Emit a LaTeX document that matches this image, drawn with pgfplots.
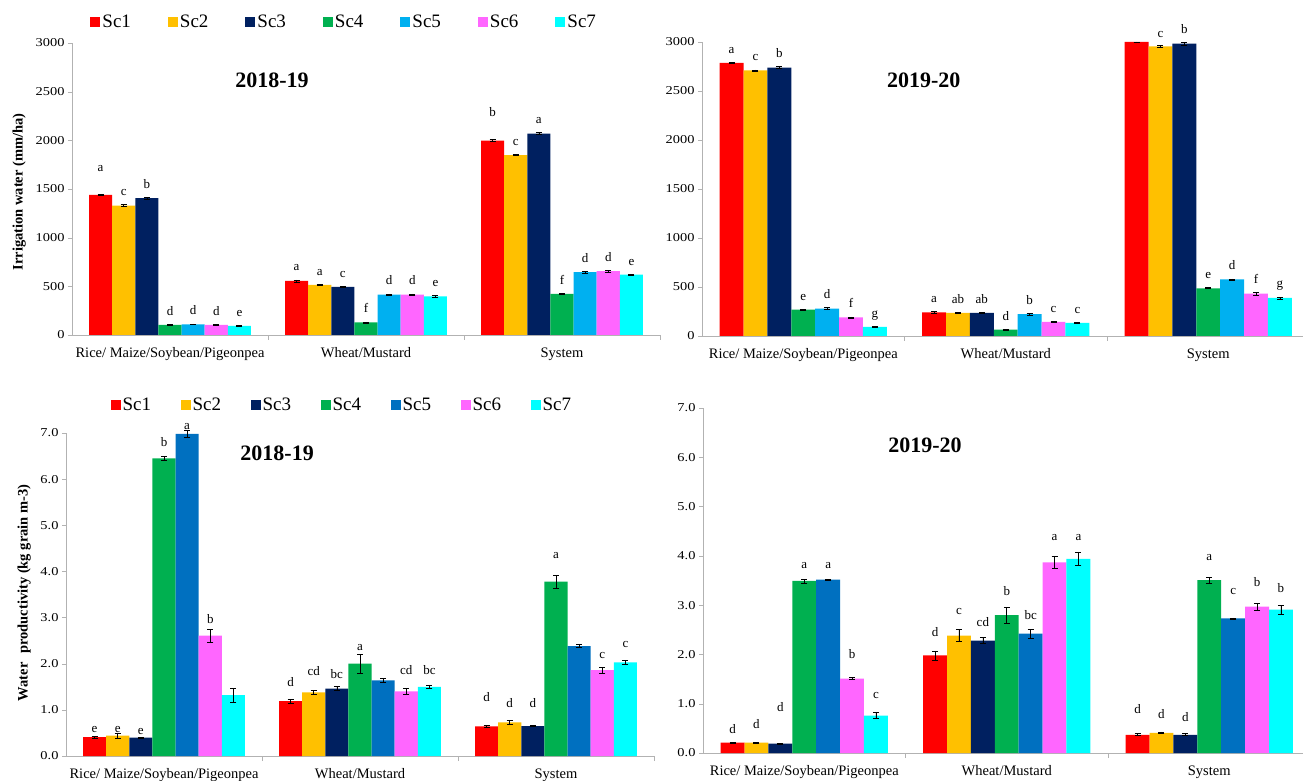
\documentclass[border=0pt]{standalone}
\usepackage{pgfplots}
\pgfplotsset{compat=1.18}
\usepackage{pgfplotstable}
\usepackage{fontspec}
\setmainfont{Liberation Serif}
\newfontfamily\tickfam{Liberation Serif}[FakeStretch=1.2]

\definecolor{scA}{HTML}{FF0000}
\definecolor{scB}{HTML}{FFC000}
\definecolor{scC}{HTML}{002060}
\definecolor{scD}{HTML}{00B050}
\definecolor{scE}{HTML}{00B0F0}
\definecolor{scEd}{HTML}{0070C0}
\definecolor{scF}{HTML}{FF66FF}
\definecolor{scG}{HTML}{00FFFF}

\newcommand{\lettfont}{\fontsize{13}{14}\selectfont}

% columns: group, means v1..v7, errors e1..e7, letters l1..l7, extra letter lift o1..o7 (pt)
\pgfplotstableread{
g v1 v2 v3 v4 v5 v6 v7 e1 e2 e3 e4 e5 e6 e7 l1 l2 l3 l4 l5 l6 l7 o1 o2 o3 o4 o5 o6 o7
0 1440 1330 1405 105 110 105 95 8 8 8 5 5 5 5 a c b d d d e 14 0 0 0 0 0 0
1 556 515 494 130 415 415 398 10 5 5 5 8 8 8 a a c f d d e 0 0 0 0 0 0 0
2 1998 1848 2070 423 645 655 620 10 5 10 5 8 8 5 b c a f d d e 14 0 0 0 0 0 0
}\iwA
\pgfplotstableread{
g v1 v2 v3 v4 v5 v6 v7 e1 e2 e3 e4 e5 e6 e7 l1 l2 l3 l4 l5 l6 l7 o1 o2 o3 o4 o5 o6 o7
0 2786 2711 2739 270 280 190 92 8 5 8 5 8 5 5 a c b e d f g 0 0 0 0 0 0 0
1 241 236 236 65 222 144 135 10 5 5 5 8 5 5 a ab ab d b c c 0 0 0 0 0 0 0
2 3000 2955 2983 487 578 432 388 0 8 12 5 5 15 10 {} c b e d f g 0 -1 0 0 0 0 0
}\iwB
\pgfplotstableread{
g v1 v2 v3 v4 v5 v6 v7 e1 e2 e3 e4 e5 e6 e7 l1 l2 l3 l4 l5 l6 l7 o1 o2 o3 o4 o5 o6 o7
0 0.41 0.44 0.40 6.45 6.98 2.61 1.32 0.02 0.06 0.01 0.04 0.07 0.14 0.15 e e e b a b {} -5 -9 -6 1 -8 -3 0
1 1.19 1.38 1.46 2.00 1.64 1.40 1.50 0.04 0.04 0.04 0.21 0.05 0.06 0.04 d cd bc a {} cd bc 4 6 -1 -5 0 5 1
2 0.64 0.73 0.65 3.78 2.38 1.86 2.03 0.02 0.05 0.01 0.14 0.03 0.06 0.04 d d d a {} c c 15 4 9 8 0 0 4
}\wpA
\pgfplotstableread{
g v1 v2 v3 v4 v5 v6 v7 e1 e2 e3 e4 e5 e6 e7 l1 l2 l3 l4 l5 l6 l7 o1 o2 o3 o4 o5 o6 o7
0 0.21 0.21 0.19 3.49 3.52 1.51 0.76 0.01 0.01 0.01 0.04 0.01 0.02 0.06 d d d a a b c 0 5 23 2 2 10 5
1 1.98 2.38 2.28 2.80 2.42 3.87 3.94 0.09 0.12 0.06 0.16 0.09 0.13 0.14 d c cd b bc a a 5 6 2 3 1 6 2
2 0.37 0.41 0.37 3.51 2.73 2.97 2.91 0.02 0.02 0.02 0.06 0.01 0.07 0.09 d d d a c b b 11 4 3 8 14 8 4
}\wpB

\pgfplotsset{
  sqleg/.style={legend image code/.code={\fill[##1] (0pt,-5pt) rectangle (10pt,5pt);}},
}

% one scenario: table, scenario number, colour, pt per data unit;
% each bar sits at its group position plus its own offset
\newcommand{\scbar}[4]{%
  \addplot[ybar, bar width=0.118, bar shift=0pt, fill=#3, draw=none, sqleg,
    nodes near coords, point meta=explicit symbolic,
    visualization depends on={\thisrow{e#2}*#4+\thisrow{o#2}+9 \as \lift},
    every node near coord/.append style={font=\lettfont, anchor=base, inner sep=0pt, yshift=\lift, text=black},
    error bars/.cd, y dir=both, y explicit,
    error bar style={black, line width=0.6pt},
    error mark options={black, rotate=90, mark size=3pt, line width=0.6pt}]
  table[x expr={\thisrow{g}+(#2-4)*0.118}, y=v#2, y error=e#2, meta=l#2] {#1};
}

\pgfplotsset{
  panel/.style={
    scale only axis, axis lines=left, axis line style={gray!60, -},
    xmin=-0.5, ymin=0, clip=false,
    xtick={0,1,2},
    xticklabels={Rice/ Maize/Soybean/Pigeonpea, Wheat/Mustard, System},
    major x tick style={draw=none},
    minor xtick={0.5,1.5,2.5}, minor x tick style={gray!60}, minor tick length=5pt,
    tick align=outside, major tick length=4pt, ytick style={gray!60},
    x tick label style={font=\fontsize{14.5}{16}\selectfont, yshift=-5pt},
    y tick label style={font=\tickfam\fontsize{12}{13}\selectfont},
    /pgf/number format/assume math mode=true,
    /pgf/number format/1000 sep={},
    scaled y ticks=false,
    ylabel style={font=\bfseries\fontsize{14.5}{16}\selectfont, anchor=center},
  },
  irr/.style={panel, ymax=3000, ytick={0,500,...,3000}},
  wp/.style={panel, ymax=7, ytick={0,1,...,7},
    yticklabel style={/pgf/number format/.cd, fixed, fixed zerofill, precision=1}},
  topleg/.style={legend columns=7, legend cell align=left,
    legend style={draw=none, fill=none, anchor=center,
      font=\fontsize{19}{21}\selectfont,
      /tikz/every even column/.append style={column sep=#1}}},
}

\begin{document}
\begin{tikzpicture}[x=1pt,y=1pt]
\useasboundingbox (0,0) rectangle (1303,780);

% Irrigation water, 2018-19
\begin{axis}[irr, at={(72pt,445pt)}, anchor=south west,
  width=588pt, height=292pt, xmax=2.5,
  ylabel={Irrigation water (mm/ha)},
  ylabel style={at={(axis description cs:-0.090,0.49)}},
  topleg=35pt, legend style={at={(axis description cs:0.463,1.072)}},
  legend entries={Sc1,Sc2,Sc3,Sc4,Sc5,Sc6,Sc7}]
\scbar{\iwA}{1}{scA}{0.0973}
\scbar{\iwA}{2}{scB}{0.0973}
\scbar{\iwA}{3}{scC}{0.0973}
\scbar{\iwA}{4}{scD}{0.0973}
\scbar{\iwA}{5}{scE}{0.0973}
\scbar{\iwA}{6}{scF}{0.0973}
\scbar{\iwA}{7}{scG}{0.0973}
\node[font=\bfseries\fontsize{22}{24}\selectfont] at (rel axis cs:0.340,0.873) {2018-19};
\end{axis}

% Irrigation water, 2019-20
\begin{axis}[irr, at={(702pt,444pt)}, anchor=south west,
  width=601pt, height=294pt, xmax=2.468]
\scbar{\iwB}{1}{scA}{0.098}
\scbar{\iwB}{2}{scB}{0.098}
\scbar{\iwB}{3}{scC}{0.098}
\scbar{\iwB}{4}{scD}{0.098}
\scbar{\iwB}{5}{scE}{0.098}
\scbar{\iwB}{6}{scF}{0.098}
\scbar{\iwB}{7}{scG}{0.098}
\node[font=\bfseries\fontsize{22}{24}\selectfont] at (rel axis cs:0.369,0.871) {2019-20};
\end{axis}

% Water productivity, 2018-19
\begin{axis}[wp, at={(66pt,24pt)}, anchor=south west,
  width=588pt, height=323pt, xmax=2.5,
  ylabel={Water\hspace{0.6em}productivity (kg grain m-3)},
  ylabel style={at={(axis description cs:-0.071,0.505)}},
  topleg=27.5pt, legend style={at={(axis description cs:0.469,1.087)}},
  legend entries={Sc1,Sc2,Sc3,Sc4,Sc5,Sc6,Sc7}]
\scbar{\wpA}{1}{scA}{46.14}
\scbar{\wpA}{2}{scB}{46.14}
\scbar{\wpA}{3}{scC}{46.14}
\scbar{\wpA}{4}{scD}{46.14}
\scbar{\wpA}{5}{scEd}{46.14}
\scbar{\wpA}{6}{scF}{46.14}
\scbar{\wpA}{7}{scG}{46.14}
\node[font=\bfseries\fontsize{22}{24}\selectfont] at (rel axis cs:0.359,0.938) {2018-19};
\end{axis}

% Water productivity, 2019-20
\begin{axis}[wp, at={(703pt,27pt)}, anchor=south west,
  width=600pt, height=345pt, xmax=2.463]
\scbar{\wpB}{1}{scA}{49.29}
\scbar{\wpB}{2}{scB}{49.29}
\scbar{\wpB}{3}{scC}{49.29}
\scbar{\wpB}{4}{scD}{49.29}
\scbar{\wpB}{5}{scEd}{49.29}
\scbar{\wpB}{6}{scF}{49.29}
\scbar{\wpB}{7}{scG}{49.29}
\node[font=\bfseries\fontsize{22}{24}\selectfont] at (rel axis cs:0.370,0.893) {2019-20};
\end{axis}
\end{tikzpicture}
\end{document}
